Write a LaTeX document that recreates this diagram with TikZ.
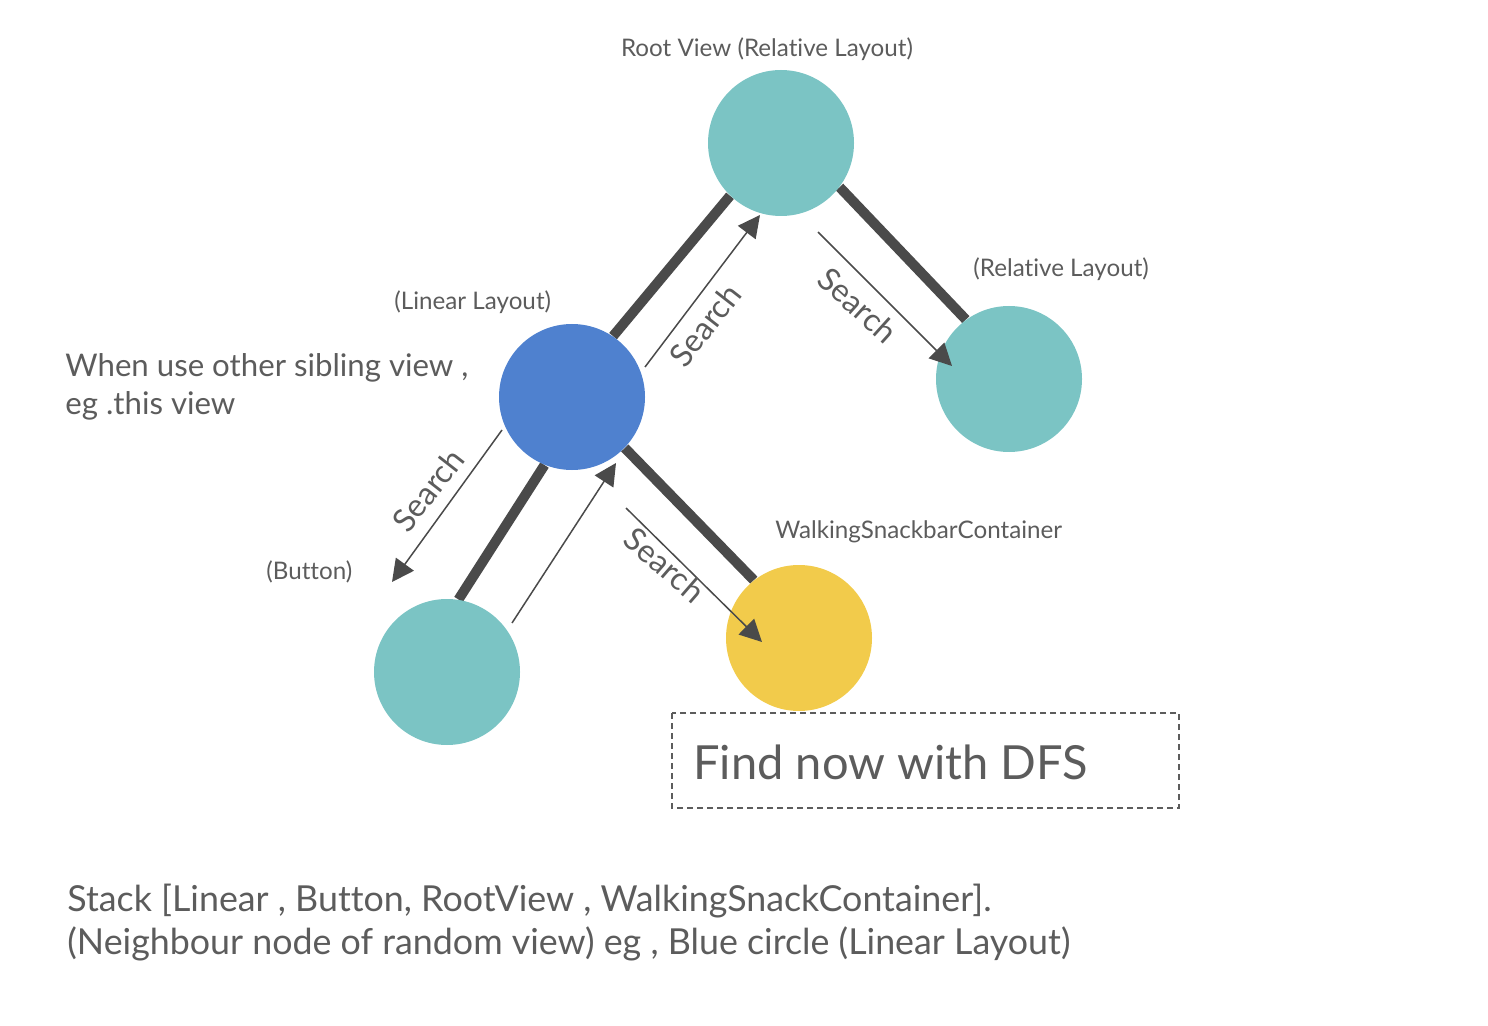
\documentclass[tikz,border=0pt]{standalone}
\usepackage{fontspec}
\setmainfont{Lato}[Ligatures=NoCommon]
\usetikzlibrary{arrows.meta}
\definecolor{cteal}{HTML}{7BC4C4}
\definecolor{cblue}{HTML}{4F81CF}
\definecolor{cyellow}{HTML}{F2CB4B}
\definecolor{cline}{HTML}{4A4A4A}
\definecolor{ctext}{HTML}{5C5C5C}
\tikzset{
  view/.style={circle, minimum size=73pt, inner sep=0pt, draw=none},
  thick link/.style={draw=cline, line width=5pt},
  search/.style={draw=cline, line width=0.75pt, -{Triangle[length=11pt,width=11pt]}},
  small label/.style={text=ctext, inner sep=0pt, font=\fontsize{12.1}{14}\selectfont},
  search label/.style={text=ctext, inner sep=0pt, font=\fontsize{16}{19}\selectfont},
  note/.style={text=ctext, inner sep=0pt, align=left, font=\fontsize{15.6}{19}\selectfont},
  big text/.style={text=ctext, inner sep=0pt, font=\fontsize{#1}{30}\selectfont},
}
\begin{document}
\begin{tikzpicture}[x=0.5pt, y=-0.5pt]
\useasboundingbox (0,0) rectangle (1488,1026);
% nodes (circles)
\node[view] (root) at (781,143) {};
\node[view] (right) at (1009,379) {};
\node[view] (lin) at (572,397) {};
\node[view] (btn) at (447,672) {};
\node[view] (walk) at (799,638) {};
% thick tree edges (behind circles)
\draw[thick link] (root.226) -- (lin.56);
\draw[thick link] (root.323) -- (right.126);
\draw[thick link] (lin.248) -- (btn.81);
\draw[thick link] (lin.316) -- (walk.128);
\fill[cteal] (root) circle (36.5pt);
\fill[cteal] (right) circle (36.5pt);
\fill[cblue] (lin) circle (36.5pt);
\fill[cteal] (btn) circle (36.5pt);
\fill[cyellow] (walk) circle (36.5pt);
% search arrows
\coordinate (a1s) at (645,367); \coordinate (a1e) at (760,215);
\coordinate (a2s) at (818,232); \coordinate (a2e) at (952,366);
\coordinate (a3s) at (502,430); \coordinate (a3e) at (392,582);
\coordinate (a4s) at (512,623); \coordinate (a4e) at (616,463);
\coordinate (a5s) at (626,508); \coordinate (a5e) at (762,642);
\draw[search] (a1s) -- (a1e);
\draw[search] (a2s) -- (a2e);
\draw[search] (a3s) -- (a3e);
\draw[search] (a4s) -- (a4e);
\draw[search] (a5s) -- (a5e);
\node[search label, rotate=52] (s1) at (705,325) {Search};
\node[search label, rotate=-42] (s2) at (858,305) {Search};
\node[search label, rotate=52] (s3) at (428,490) {Search};
\node[search label, rotate=-41] (s5) at (665,565) {Search};
% labels
\node[small label, anchor=base] (lroot) at (767,57) {Root View (Relative Layout)};
\node[small label, anchor=base west] (lright) at (973,277) {(Relative Layout)};
\node[small label, anchor=base west] (llin) at (394,310) {(Linear Layout)};
\node[small label, anchor=base west] (lbtn) at (266,579) {(Button)};
\node[small label, anchor=base west] (lwalk) at (775,538) {WalkingSnackbarContainer};
\node[note, anchor=base west] (n1) at (65,377) {When use other sibling view ,};
\node[note, anchor=base west] (n2) at (65,415) {eg .this view};
% DFS box
\draw[cline!90, line width=0.75pt, dash pattern=on 3pt off 2pt] (672,713) rectangle (1179,808);
\node[big text=23.5, anchor=base west] (dfs) at (693,779) {Find now with DFS};
% stack text
\node[big text=17.9, anchor=base west] (st1) at (67,911) {Stack [Linear , Button, RootView , WalkingSnackContainer].};
\node[big text=17.9, anchor=base west] (st2) at (67,954) {(Neighbour node of random view) eg , Blue circle (Linear Layout)};
\end{tikzpicture}
\end{document}
